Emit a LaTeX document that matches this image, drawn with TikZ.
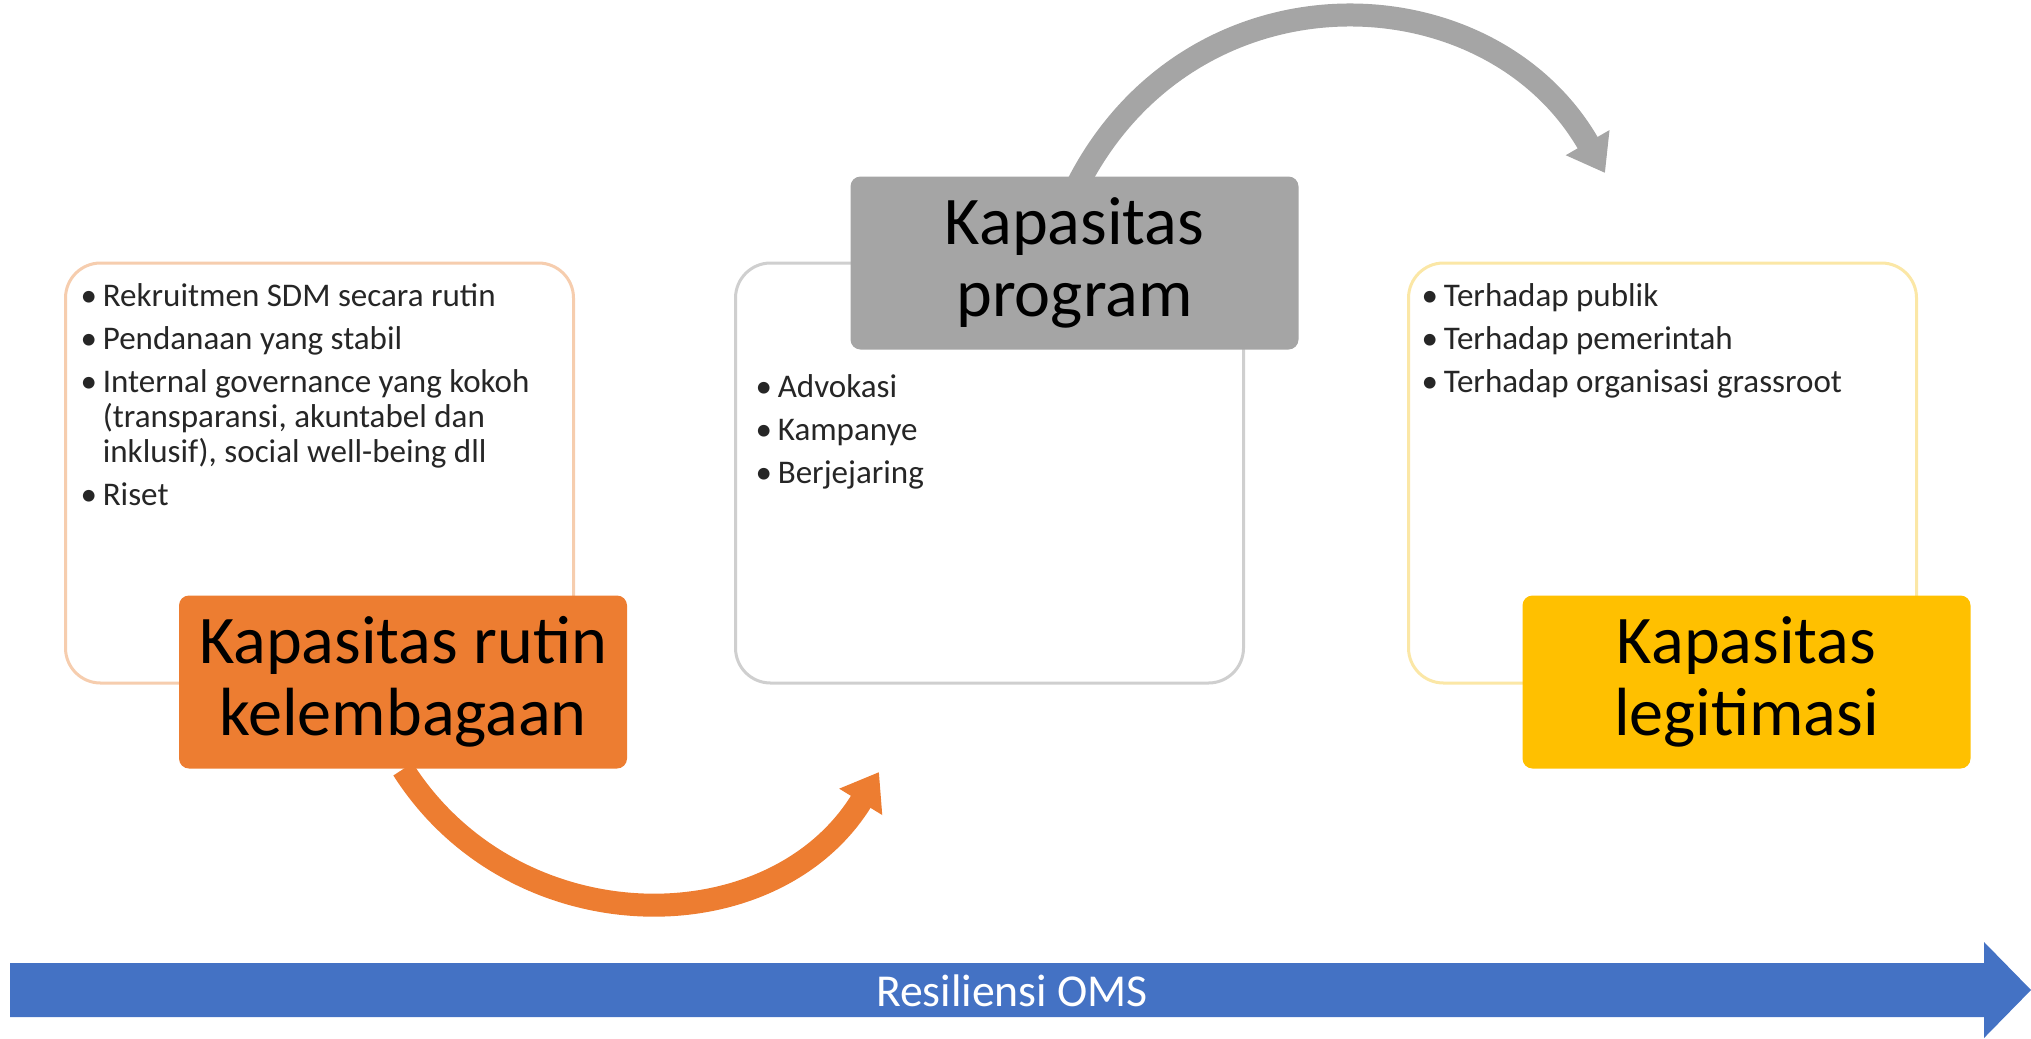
\documentclass[tikz,border=0pt]{standalone}
\usepackage{fontspec}
\setmainfont{Carlito}
\usetikzlibrary{calc, arrows.meta, backgrounds}

\definecolor{oranye}{HTML}{ED7D31}
\definecolor{abu}{HTML}{A5A5A5}
\definecolor{kuning}{HTML}{FFC000}
\definecolor{biru}{HTML}{4472C4}
\definecolor{garisoranye}{HTML}{F6CDAE}
\definecolor{garisabu}{HTML}{CFCFCF}
\definecolor{gariskuning}{HTML}{FBE7A6}
\definecolor{tinta}{HTML}{262626}

\newcommand{\bul}{\makebox[0.67em][l]{•}}
\newcommand{\ind}{\hspace*{0.67em}}

\tikzset{
  panel/.style={draw=#1, line width=0.3mm, rounded corners=3.5mm, fill=white,
    minimum width=50.8mm, minimum height=42mm},
  judul/.style={fill=#1, rounded corners=1mm, minimum width=44.8mm, minimum height=17.3mm,
    align=center, text=black, font=\fontsize{19.4}{20.5}\selectfont},
  poin/.style={anchor=north west, inner sep=0pt, align=left, text=tinta,
    font=\fontsize{9.4}{10}\selectfont},
  panah/.style={draw=#1, line width=2.3mm, -{Triangle[length=3.5mm,width=4.8mm]}},
}

\begin{document}
\begin{tikzpicture}[x=0.1mm, y=-0.1mm]
\useasboundingbox (0,0) rectangle (2031,1038);

\node[panel=garisoranye] (rutinpanel) at (319.5,473) {};
\node[panel=garisabu] (programpanel) at (989.5,473) {};
\node[panel=gariskuning] (legitpanel) at (1662.5,473) {};

\node[poin] (rutinpoin) at (80,283) {\bul Rekruitmen SDM secara rutin\\[2.2pt]
  \bul Pendanaan yang stabil\\[2.2pt]
  \bul Internal governance yang kokoh\\
  \ind (transparansi, akuntabel dan\\
  \ind inklusif), social well-being dll\\[2.2pt]
  \bul Riset};
\node[poin] (programpoin) at (755,374) {\bul Advokasi\\[2.2pt]
  \bul Kampanye\\[2.2pt]
  \bul Berjejaring};
\node[poin] (legitpoin) at (1421,283) {\bul Terhadap publik\\[2.2pt]
  \bul Terhadap pemerintah\\[2.2pt]
  \bul Terhadap organisasi grassroot};

\node[judul=oranye] (rutin) at (403,682) {Kapasitas rutin\\kelembagaan};
\node[judul=abu] (program) at (1074.5,263) {Kapasitas\\program};
\node[judul=kuning] (legit) at (1746.5,682) {Kapasitas\\legitimasi};

\coordinate (rutinujung) at (879,772);
\coordinate (programujung) at (1605,173);
\draw[panah=oranye] (rutin.south) .. controls (515,945) and (773,945) .. (rutinujung);
\begin{scope}[on background layer]
\draw[panah=abu] ($(program.north)+(0,15)$) .. controls (1187,-40) and (1488,-31) .. (programujung);
\end{scope}

\fill[biru] (10,963) -- (1984,963) -- (1984,942) -- (2031,990) -- (1984,1038)
  -- (1984,1017) -- (10,1017) -- cycle;
\node[text=white, font=\fontsize{13}{15}\selectfont] (resiliensi) at (1012,991) {Resiliensi OMS};
\end{tikzpicture}
\end{document}
